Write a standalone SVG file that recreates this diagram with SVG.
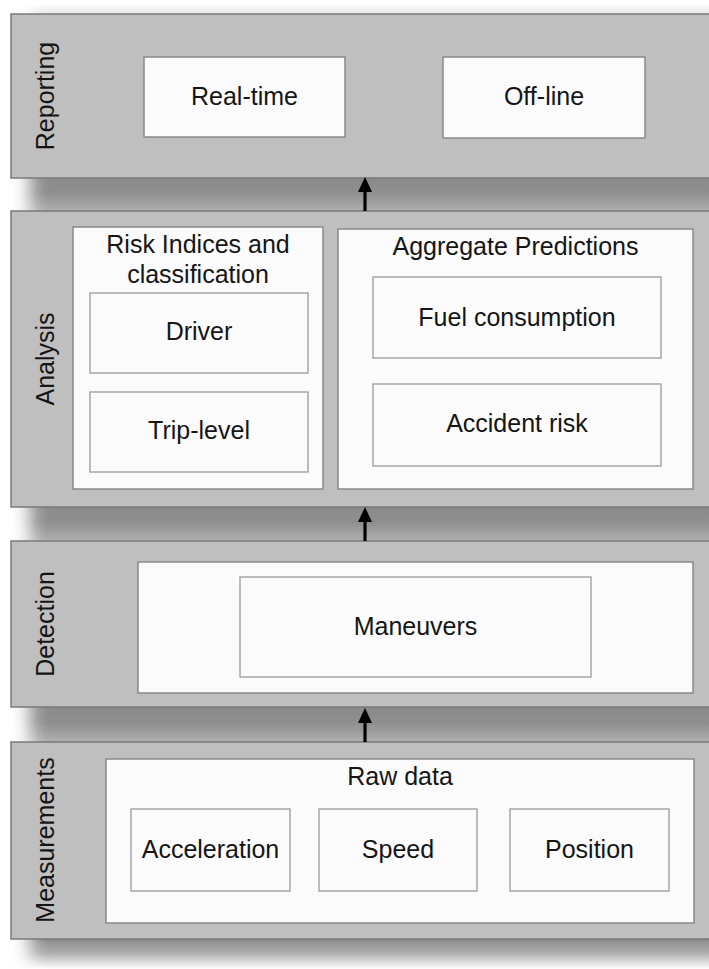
<svg xmlns="http://www.w3.org/2000/svg" width="709" height="969" viewBox="0 0 709 969">
<defs>
<style>
.band{fill:#bfbfbf;stroke:#7a7a7a;stroke-width:1.5}
.panel{fill:#fbfbfb;stroke:#8a8a8a;stroke-width:1.5}
.box{fill:#fbfbfb;stroke:#9a9a9a;stroke-width:1.3}
text{font-family:"Liberation Sans",Arial,sans-serif;font-size:25px;fill:#151515}
.c{text-anchor:middle}
.conn line{stroke:#000;stroke-width:3.2}
</style>
<linearGradient id="gap" x1="0" y1="0" x2="0" y2="1">
<stop offset="0" stop-color="#8a8a8a"/>
<stop offset="0.45" stop-color="#8f8f8f"/>
<stop offset="1" stop-color="#b2b2b2"/>
</linearGradient>
<linearGradient id="gapEnd" x1="0" y1="0" x2="0" y2="1">
<stop offset="0" stop-color="#888"/>
<stop offset="0.5" stop-color="#b0b0b0"/>
<stop offset="1" stop-color="#fff"/>
</linearGradient>
<linearGradient id="topFade" x1="0" y1="0" x2="0" y2="1">
<stop offset="0" stop-color="#fff"/>
<stop offset="1" stop-color="#e2e2e2"/>
</linearGradient>
<filter id="hb" x="-5%" y="0" width="110%" height="100%">
<feGaussianBlur stdDeviation="9 0"/>
</filter>
<marker id="ah" markerUnits="userSpaceOnUse" markerWidth="15" markerHeight="14" refX="5" refY="7" orient="auto" viewBox="0 0 15 14">
<path d="M0,0 L15,7 L0,14 Z" fill="#000"/>
</marker>
</defs>
<rect width="709" height="969" fill="#fff"/>
<g id="shadows">
<rect x="30" y="4" width="700" height="12" fill="url(#topFade)" filter="url(#hb)"/>
<rect x="30" y="177" width="700" height="36" fill="url(#gap)" filter="url(#hb)"/>
<rect x="30" y="506" width="700" height="37" fill="url(#gap)" filter="url(#hb)"/>
<rect x="30" y="706" width="700" height="38" fill="url(#gap)" filter="url(#hb)"/>
<rect x="30" y="938" width="700" height="31" fill="url(#gapEnd)" filter="url(#hb)"/>
</g>
<g id="reporting">
<rect class="band" x="11" y="14" width="710" height="164"/>
<text class="c" transform="translate(54,96) rotate(-90)">Reporting</text>
<g id="real-time"><rect class="panel" x="144" y="57" width="201" height="80"/><text class="c" x="244.5" y="105">Real-time</text></g>
<g id="off-line"><rect class="panel" x="443" y="57" width="202" height="81"/><text class="c" x="544" y="105">Off-line</text></g>
</g>
<g id="analysis">
<rect class="band" x="11" y="211" width="710" height="296"/>
<text class="c" transform="translate(54,359) rotate(-90)">Analysis</text>
<g id="risk">
<rect class="panel" x="73" y="227" width="250" height="262"/>
<text class="c" x="198" y="253">Risk Indices and</text>
<text class="c" x="198" y="283">classification</text>
<g id="driver"><rect class="box" x="90" y="293" width="218" height="80"/><text class="c" x="199" y="340">Driver</text></g>
<g id="trip-level"><rect class="box" x="90" y="392" width="218" height="80"/><text class="c" x="199" y="439">Trip-level</text></g>
</g>
<g id="aggregate">
<rect class="panel" x="338" y="229" width="355" height="260"/>
<text class="c" x="515.5" y="255">Aggregate Predictions</text>
<g id="fuel"><rect class="box" x="373" y="277" width="288" height="81"/><text class="c" x="517" y="326">Fuel consumption</text></g>
<g id="accident"><rect class="box" x="373" y="384" width="288" height="82"/><text class="c" x="517" y="432">Accident risk</text></g>
</g>
</g>
<g id="detection">
<rect class="band" x="11" y="541" width="710" height="166"/>
<text class="c" transform="translate(54,624) rotate(-90)">Detection</text>
<rect class="panel" x="138" y="562" width="555" height="131"/>
<g id="maneuvers"><rect class="box" x="240" y="577" width="351" height="100"/><text class="c" x="415.5" y="635">Maneuvers</text></g>
</g>
<g id="measurements">
<rect class="band" x="11" y="742" width="710" height="197"/>
<text class="c" transform="translate(54,840) rotate(-90)">Measurements</text>
<g id="raw-data">
<rect class="panel" x="106" y="759" width="588" height="164"/>
<text class="c" x="400" y="785">Raw data</text>
<g id="acceleration"><rect class="box" x="131" y="809" width="159" height="82"/><text class="c" x="210.5" y="858">Acceleration</text></g>
<g id="speed"><rect class="box" x="319" y="809" width="158" height="82"/><text class="c" x="398" y="858">Speed</text></g>
<g id="position"><rect class="box" x="510" y="809" width="159" height="82"/><text class="c" x="589.5" y="858">Position</text></g>
</g>
</g>
<g id="connectors" class="conn">
<line x1="365" y1="211" x2="365" y2="187" marker-end="url(#ah)"/>
<line x1="365" y1="541" x2="365" y2="517" marker-end="url(#ah)"/>
<line x1="365" y1="742" x2="365" y2="718" marker-end="url(#ah)"/>
</g>
</svg>
